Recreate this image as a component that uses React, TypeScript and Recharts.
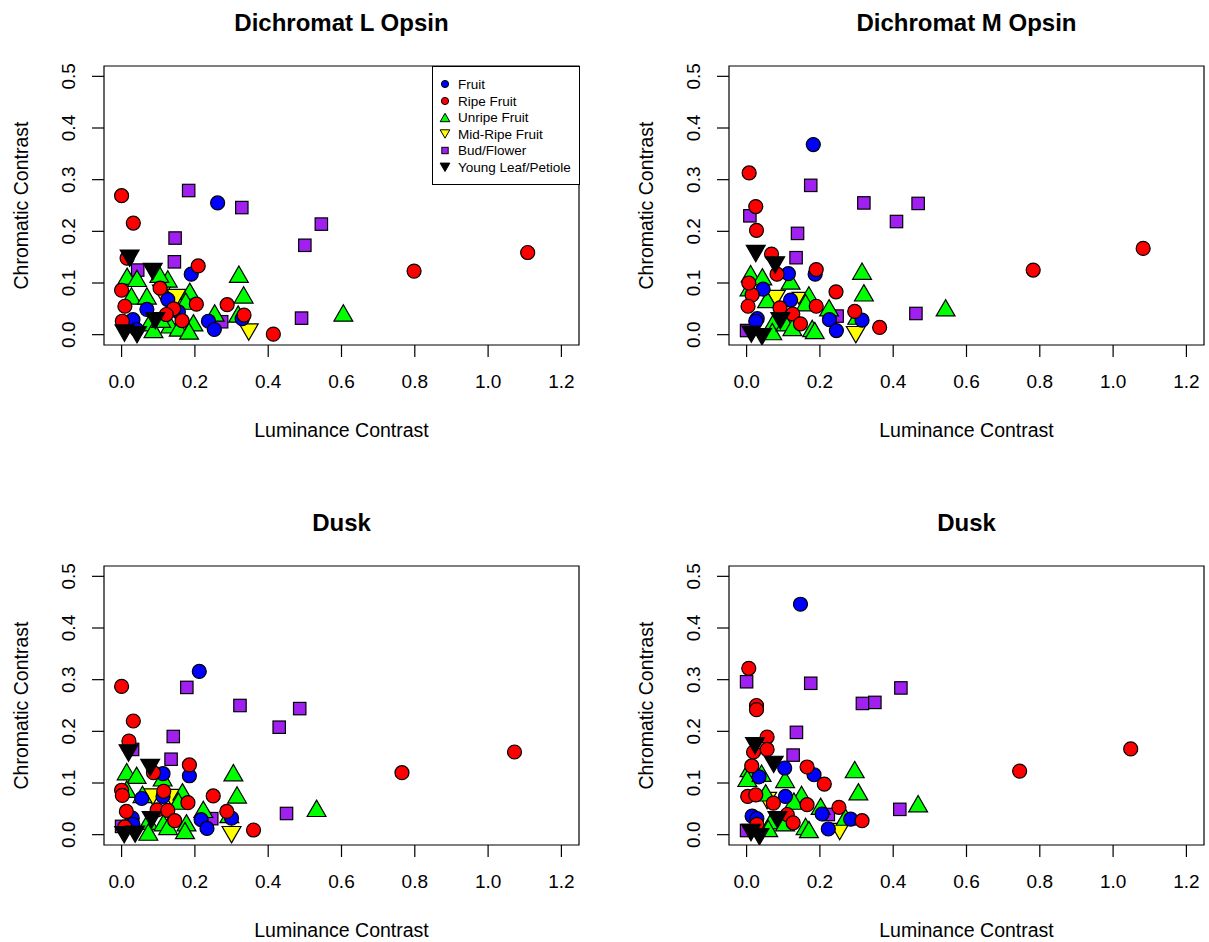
import React from 'react';
import { ScatterChart, Scatter, XAxis, YAxis, ReferenceArea } from 'recharts';

type P = [number, number];

// ---------- Tick labels / axis ranges ----------
const X_TICKS = [0, 0.2, 0.4, 0.6, 0.8, 1.0, 1.2];
const Y_TICKS = [0, 0.1, 0.2, 0.3, 0.4, 0.5];
const X_DOMAIN: [number, number] = [-0.048, 1.248];
const Y_DOMAIN: [number, number] = [-0.02, 0.52];

const CATEGORIES = ['Fruit', 'Ripe Fruit', 'Unripe Fruit', 'Mid-Ripe Fruit', 'Bud/Flower', 'Young Leaf/Petiole'];
const TITLES = ['Dichromat L Opsin', 'Dichromat M Opsin', 'Dusk', 'Dusk'];

// ---------- Panel 1: Dichromat L Opsin ----------
const lFruit: P[] = [[0.262,0.255],[0.19,0.117],[0.126,0.068],[0.069,0.049],[0.031,0.029],[0.041,0.01],[0.237,0.026],[0.253,0.01],[0.329,0.031],[0.155,0.044]];
const lRipe: P[] = [[0,0.269],[0.032,0.216],[0.015,0.148],[0.209,0.133],[0,0.086],[0.009,0.055],[0.204,0.059],[0.105,0.09],[0.288,0.058],[0.142,0.05],[0.122,0.039],[0.165,0.027],[0.002,0.026],[0.334,0.038],[0.414,0.001],[0.798,0.123],[1.108,0.159]];
const lUnripe: P[] = [[0.015,0.113],[0.042,0.109],[0.126,0.108],[0.103,0.117],[0.027,0.075],[0.069,0.075],[0.186,0.084],[0.175,0.065],[0.32,0.117],[0.333,0.077],[0.254,0.042],[0.318,0.04],[0.076,0.023],[0.087,0.01],[0.133,0.019],[0.156,0.013],[0.196,0.023],[0.184,0.007],[0.108,0.03],[0.605,0.042]];
const lMid: P[] = [[0.11,0.08],[0.15,0.072],[0.347,0.005]];
const lBud: P[] = [[0.183,0.279],[0.328,0.246],[0.146,0.187],[0.144,0.141],[0.044,0.125],[0.545,0.214],[0.5,0.173],[0.491,0.032],[0.273,0.025]];
const lYoung: P[] = [[0.022,0.148],[0.085,0.122],[0.008,0.003],[0.042,0.0],[0.092,0.027]];

// ---------- Panel 2: Dichromat M Opsin ----------
const mFruit: P[] = [[0.182,0.368],[0.114,0.118],[0.187,0.117],[0.045,0.088],[0.12,0.067],[0.029,0.031],[0.025,0.026],[0.226,0.029],[0.245,0.008],[0.315,0.028]];
const mRipe: P[] = [[0.007,0.313],[0.025,0.248],[0.027,0.202],[0.068,0.156],[0.083,0.117],[0.19,0.126],[0.244,0.083],[0.015,0.077],[0.004,0.055],[0.091,0.052],[0.126,0.04],[0.147,0.021],[0.19,0.055],[0.295,0.045],[0.363,0.014],[0.006,0.1],[0.782,0.125],[1.082,0.167]];
const mUnripe: P[] = [[0.011,0.118],[0.043,0.112],[0.008,0.091],[0.12,0.104],[0.315,0.123],[0.32,0.081],[0.056,0.068],[0.17,0.077],[0.161,0.062],[0.225,0.052],[0.302,0.036],[0.075,0.026],[0.07,0.006],[0.106,0.023],[0.125,0.014],[0.179,0.012],[0.186,0.008],[0.543,0.052]];
const mMid: P[] = [[0.08,0.07],[0.15,0.066],[0.298,0.0]];
const mBud: P[] = [[0.175,0.289],[0.009,0.23],[0.32,0.255],[0.468,0.254],[0.409,0.219],[0.139,0.196],[0.135,0.149],[0.462,0.041],[0.247,0.036],[0.0,0.008]];
const mYoung: P[] = [[0.025,0.157],[0.078,0.135],[0.013,0.001],[0.042,-0.004],[0.092,0.027]];

// ---------- Panel 3: Dusk ----------
const d1Fruit: P[] = [[0.212,0.316],[0.185,0.114],[0.113,0.118],[0.055,0.07],[0.113,0.074],[0.029,0.032],[0.031,0.02],[0.217,0.029],[0.233,0.012],[0.3,0.032]];
const d1Ripe: P[] = [[0,0.287],[0.032,0.22],[0.02,0.181],[0.185,0.135],[0.087,0.12],[0,0.086],[0.002,0.076],[0.115,0.084],[0.181,0.062],[0.25,0.075],[0.013,0.045],[0.097,0.048],[0.126,0.047],[0.145,0.027],[0.287,0.045],[0.009,0.015],[0.36,0.009],[0.765,0.12],[1.072,0.16]];
const d1Unripe: P[] = [[0.014,0.122],[0.041,0.115],[0.112,0.11],[0.014,0.088],[0.057,0.078],[0.305,0.12],[0.315,0.077],[0.166,0.083],[0.155,0.065],[0.223,0.049],[0.294,0.039],[0.073,0.026],[0.073,0.005],[0.114,0.023],[0.127,0.016],[0.177,0.023],[0.173,0.008],[0.532,0.051]];
const d1Mid: P[] = [[0.085,0.073],[0.136,0.072],[0.3,0.0]];
const d1Bud: P[] = [[0.178,0.285],[0.323,0.25],[0.486,0.244],[0.43,0.208],[0.141,0.19],[0.135,0.146],[0.03,0.165],[0.45,0.041],[0.246,0.031],[0,0.016]];
const d1Young: P[] = [[0.019,0.158],[0.078,0.13],[0.007,0.0],[0.037,0.001],[0.082,0.029]];

// ---------- Panel 4: Dusk ----------
const d2Fruit: P[] = [[0.147,0.446],[0.104,0.129],[0.184,0.116],[0.034,0.112],[0.106,0.074],[0.015,0.036],[0.028,0.031],[0.206,0.04],[0.223,0.011],[0.284,0.03]];
const d2Ripe: P[] = [[0.006,0.322],[0.027,0.25],[0.027,0.242],[0.056,0.189],[0.056,0.165],[0.019,0.16],[0.165,0.131],[0.212,0.098],[0.014,0.133],[0.003,0.074],[0.025,0.077],[0.073,0.061],[0.165,0.058],[0.111,0.039],[0.127,0.023],[0.252,0.053],[0.315,0.027],[0.028,0.02],[0.745,0.123],[1.048,0.166]];
const d2Unripe: P[] = [[0.008,0.128],[0.002,0.109],[0.041,0.119],[0.105,0.107],[0.295,0.126],[0.305,0.083],[0.052,0.081],[0.15,0.078],[0.129,0.065],[0.202,0.055],[0.27,0.034],[0.068,0.027],[0.059,0.012],[0.105,0.023],[0.161,0.016],[0.17,0.01],[0.468,0.06]];
const d2Mid: P[] = [[0.056,0.066],[0.254,0.006]];
const d2Bud: P[] = [[0,0.296],[0.175,0.293],[0.316,0.254],[0.35,0.256],[0.421,0.284],[0.136,0.198],[0.127,0.154],[0.418,0.049],[0.223,0.039],[0,0.008]];
const d2Young: P[] = [[0.023,0.172],[0.074,0.136],[0.012,0.004],[0.035,-0.004],[0.084,0.029]];

// ---------- Styling ----------
type Kind = 'circle' | 'up' | 'down' | 'square';
const STYLE: { name: string; fill: string; kind: Kind }[] = [
  { name: CATEGORIES[0], fill: '#0000FF', kind: 'circle' },
  { name: CATEGORIES[1], fill: '#FF0000', kind: 'circle' },
  { name: CATEGORIES[2], fill: '#00FF00', kind: 'up' },
  { name: CATEGORIES[3], fill: '#FFFF00', kind: 'down' },
  { name: CATEGORIES[4], fill: '#A020F0', kind: 'square' },
  { name: CATEGORIES[5], fill: '#000000', kind: 'down' },
];
// drawing order of series
const DRAW_ORDER = [4, 3, 2, 0, 1, 5];

const FONT = '"Liberation Sans", Arial, Helvetica, sans-serif';
const W = 604;
const H = 442;

function symbol(kind: Kind, fill: string, cx: number, cy: number, r: number, sw: number) {
  const stroke = '#000';
  if (kind === 'circle') return <circle cx={cx} cy={cy} r={r} fill={fill} stroke={stroke} strokeWidth={sw} />;
  if (kind === 'square') {
    const h = r * 0.886;
    return <rect x={cx - h} y={cy - h} width={2 * h} height={2 * h} fill={fill} stroke={stroke} strokeWidth={sw} />;
  }
  const hw = r * 1.347;
  const hh = r * 1.1667;
  if (kind === 'up') {
    const pts = `${cx},${cy - hh} ${cx + hw},${cy + hh} ${cx - hw},${cy + hh}`;
    return <polygon points={pts} fill={fill} stroke={stroke} strokeWidth={sw} strokeLinejoin="miter" />;
  }
  const pts = `${cx},${cy + hh} ${cx + hw},${cy - hh} ${cx - hw},${cy - hh}`;
  return <polygon points={pts} fill={fill} stroke={stroke} strokeWidth={sw} strokeLinejoin="miter" />;
}

function makeShape(kind: Kind, fill: string) {
  return (props: any) => {
    const { cx, cy } = props;
    if (cx == null || cy == null || isNaN(cx) || isNaN(cy)) return <g />;
    return symbol(kind, fill, cx, cy, 7, 1.2);
  };
}

const toPts = (arr: P[]) => arr.map(([x, y]) => ({ x, y }));

const XTick = (props: any) => {
  const { x, y, payload } = props;
  return (
    <text x={x} y={y} textAnchor="middle" fontSize={19} fill="#000" fontFamily={FONT}>
      {Number(payload.value).toFixed(1)}
    </text>
  );
};

const YTick = (props: any) => {
  const { x, y, payload } = props;
  return (
    <text x={x} y={y} transform={`rotate(-90 ${x} ${y})`} textAnchor="middle" fontSize={19} fill="#000" fontFamily={FONT}>
      {Number(payload.value).toFixed(1)}
    </text>
  );
};

function Legend() {
  const rows = [18, 35, 51.5, 68, 84.5, 101.3];
  return (
    <div style={{ position: 'absolute', left: 432, top: 66, width: 148, height: 119, boxSizing: 'border-box', border: '1.2px solid #000', background: '#fff' }}>
      <svg width={146} height={117} style={{ position: 'absolute', left: -1, top: -1 }}>
        {STYLE.map((s, i) => (
          <g key={s.name}>
            {symbol(s.kind, s.fill, 13, rows[i], 3.6, 1)}
            <text x={26} y={rows[i] + 4.8} fontSize={13.5} fontFamily={FONT} fill="#000">{s.name}</text>
          </g>
        ))}
      </svg>
    </div>
  );
}

function Panel({ title, series, left, top, legend }: { title: string; series: P[][]; left: number; top: number; legend?: boolean }) {
  const plotL = 104, plotR = 579, plotT = 66, plotB = 345;
  const cx = (plotL + plotR) / 2;
  const cy = (plotT + plotB) / 2;
  return (
    <div style={{ position: 'absolute', left, top, width: W, height: H }}>
      <ScatterChart width={W} height={H} margin={{ top: 66, right: 25, bottom: 37, left: 44 }}>
        <XAxis
          type="number"
          dataKey="x"
          domain={X_DOMAIN}
          ticks={X_TICKS}
          interval={0}
          allowDataOverflow
          axisLine={false}
          tickSize={12}
          tickMargin={31}
          height={60}
          tick={XTick}
          tickLine={{ stroke: '#000', strokeWidth: 1.2 }}
        />
        <YAxis
          type="number"
          dataKey="y"
          domain={Y_DOMAIN}
          ticks={Y_TICKS}
          interval={0}
          allowDataOverflow
          axisLine={false}
          tickSize={12}
          tickMargin={17}
          width={60}
          tick={YTick}
          tickLine={{ stroke: '#000', strokeWidth: 1.2 }}
        />
        <ReferenceArea
          x1={X_DOMAIN[0]}
          x2={X_DOMAIN[1]}
          y1={Y_DOMAIN[0]}
          y2={Y_DOMAIN[1]}
          fill="none"
          fillOpacity={0}
          stroke="#000"
          strokeWidth={1.2}
          ifOverflow="visible"
        />
        {DRAW_ORDER.map((i) => (
          <Scatter
            key={STYLE[i].name}
            name={STYLE[i].name}
            data={toPts(series[i])}
            shape={makeShape(STYLE[i].kind, STYLE[i].fill)}
            isAnimationActive={false}
          />
        ))}
      </ScatterChart>
      <svg width={W} height={H} style={{ position: 'absolute', left: 0, top: 0, pointerEvents: 'none' }}>
        <text x={cx} y={31} textAnchor="middle" fontSize={24} fontWeight="bold" fontFamily={FONT} fill="#000">{title}</text>
        <text x={cx} y={436.5} textAnchor="middle" fontSize={19.5} fontFamily={FONT} fill="#000">Luminance Contrast</text>
        <text x={28} y={cy} transform={`rotate(-90 28 ${cy})`} textAnchor="middle" fontSize={19.5} fontFamily={FONT} fill="#000">Chromatic Contrast</text>
      </svg>
      {legend ? <Legend /> : null}
    </div>
  );
}

export default function App() {
  return (
    <div style={{ position: 'absolute', left: 0, top: 0, width: 1209, height: 942, overflow: 'hidden', background: '#fff' }}>
      <Panel title={TITLES[0]} series={[lFruit, lRipe, lUnripe, lMid, lBud, lYoung]} left={0} top={0} legend />
      <Panel title={TITLES[1]} series={[mFruit, mRipe, mUnripe, mMid, mBud, mYoung]} left={625} top={0} />
      <Panel title={TITLES[2]} series={[d1Fruit, d1Ripe, d1Unripe, d1Mid, d1Bud, d1Young]} left={0} top={500} />
      <Panel title={TITLES[3]} series={[d2Fruit, d2Ripe, d2Unripe, d2Mid, d2Bud, d2Young]} left={625} top={500} />
    </div>
  );
}
